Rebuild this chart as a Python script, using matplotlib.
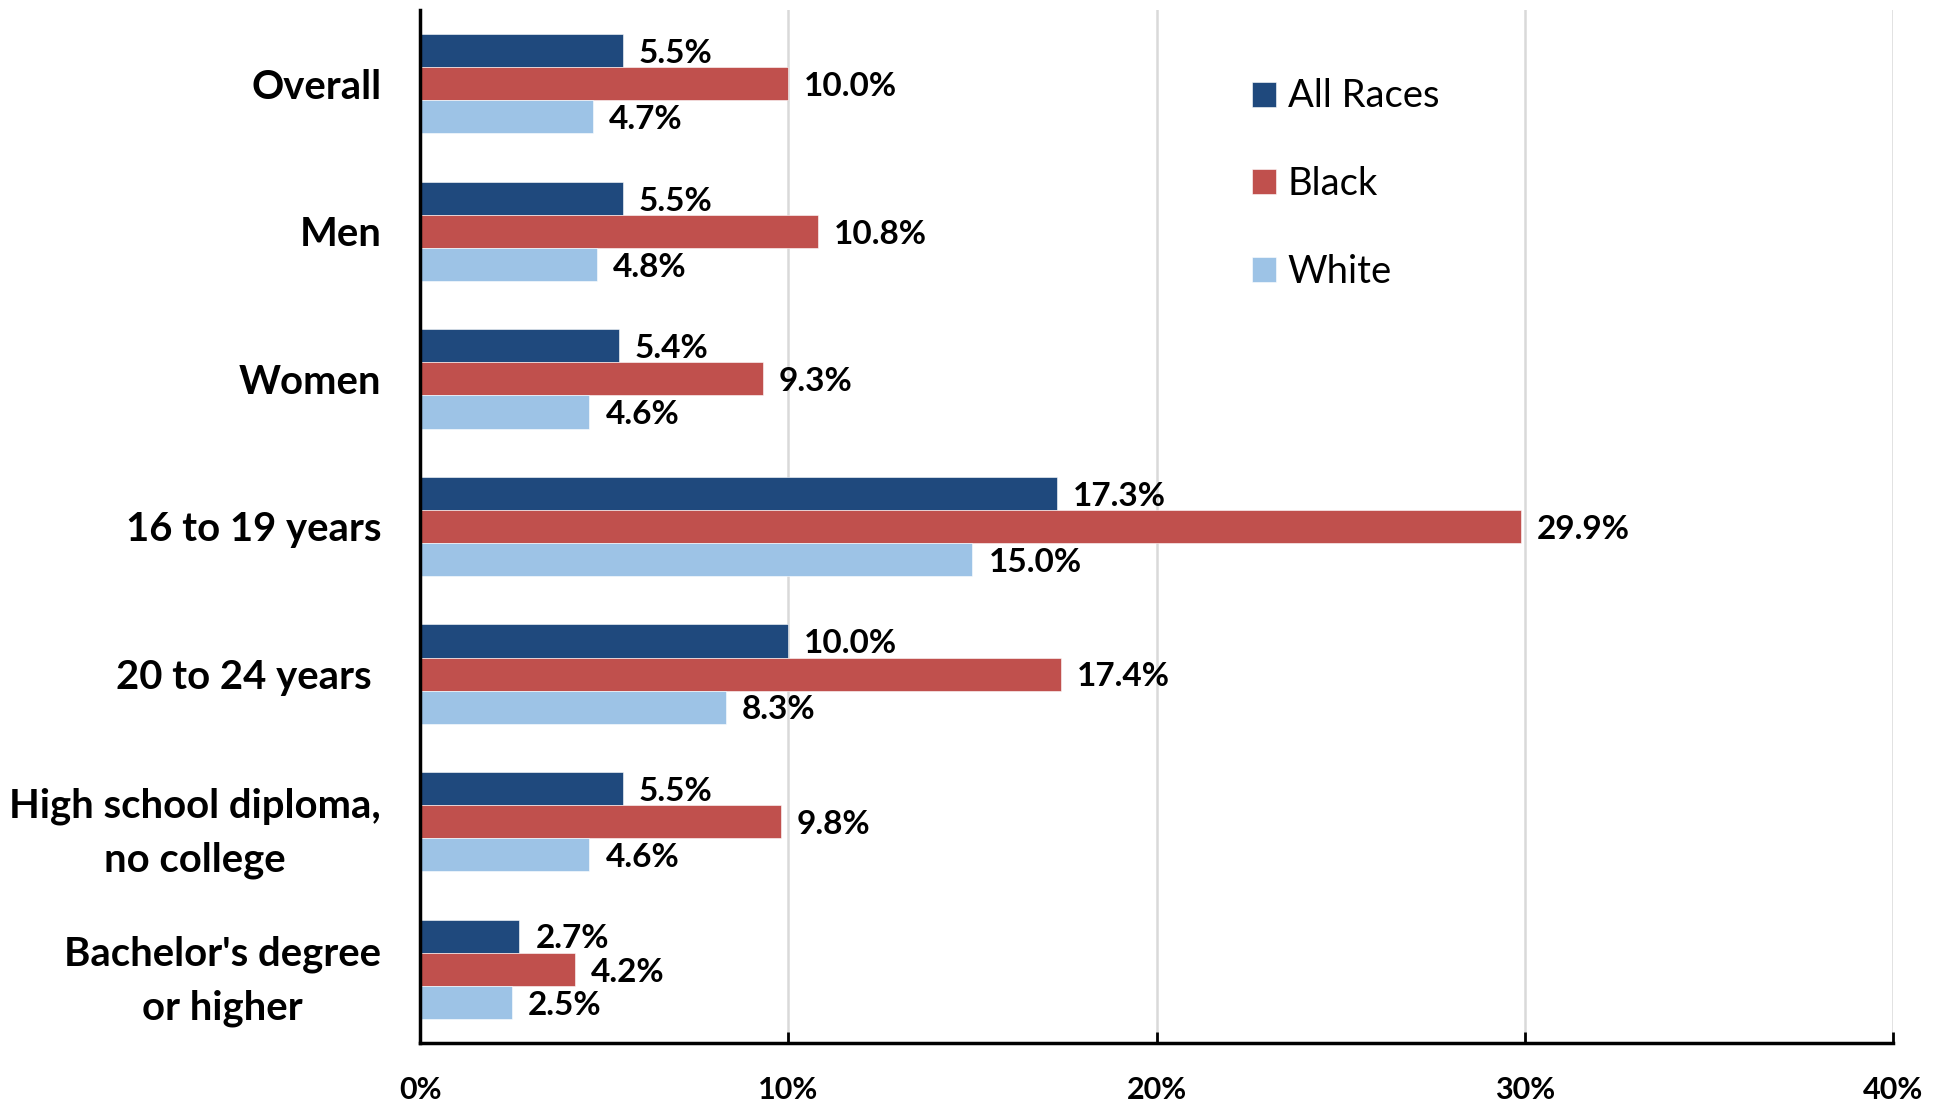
import matplotlib.pyplot as plt
import numpy as np

categories = ["Overall", "Men", "Women", "16 to 19 years", "20 to 24 years ",
              "High school diploma,\nno college", "Bachelor's degree\nor higher"]
all_races = [5.5, 5.5, 5.4, 17.3, 10.0, 5.5, 2.7]
black = [10.0, 10.8, 9.3, 29.9, 17.4, 9.8, 4.2]
white = [4.7, 4.8, 4.6, 15.0, 8.3, 4.6, 2.5]
series_names = ["All Races", "Black", "White"]
colors = ["#1F497D", "#C0504D", "#9DC3E6"]
xticks = [0, 10, 20, 30, 40]

plt.rcParams['font.family'] = ['Lato', 'DejaVu Sans']

fig = plt.figure(figsize=(19.51, 11.09), dpi=100)
ax = fig.add_axes([0.2153, 0.0595, 0.7550, 0.9315])

y = np.arange(len(categories))
h = 0.224
for i, (vals, name, c) in enumerate(zip([all_races, black, white], series_names, colors)):
    ax.barh(y + (i - 1) * h, vals, height=h, color=c, label=name,
            edgecolor='white', linewidth=0.4, zorder=3)
    for yy, v in zip(y + (i - 1) * h, vals):
        ax.annotate(f"{v:.1f}%", (v, yy), xytext=(11.5, -2), textcoords='offset points',
                    va='center', ha='left', fontsize=24, fontweight='bold')

ax.set_xlim(0, 40)
ax.set_ylim(len(categories) - 0.5, -0.5)
ax.set_xticks(xticks)
ax.set_xticklabels([f"{t}%" for t in xticks], fontsize=22, fontweight='bold')
ax.set_yticks(y)
ax.set_yticklabels(categories, fontsize=28.8, fontweight='bold', multialignment='center',
                   linespacing=1.55)
ax.tick_params(axis='y', length=0, pad=28)
ax.tick_params(axis='x', direction='in', length=8, width=2, pad=24)

ax.grid(axis='x', color='#D9D9D9', linewidth=1.8, zorder=0)
ax.set_axisbelow(True)
for s in ['top', 'right']:
    ax.spines[s].set_visible(False)
ax.spines['left'].set_linewidth(2.5)
ax.spines['bottom'].set_linewidth(2.5)
ax.spines['left'].set_zorder(4)

ax.legend(loc='upper left', bbox_to_anchor=(0.5415, 0.967), frameon=False, fontsize=27.5,
          handlelength=0.63, handleheight=0.63, handletextpad=0.3, labelspacing=1.36)

plt.savefig('out.png', dpi=100)
